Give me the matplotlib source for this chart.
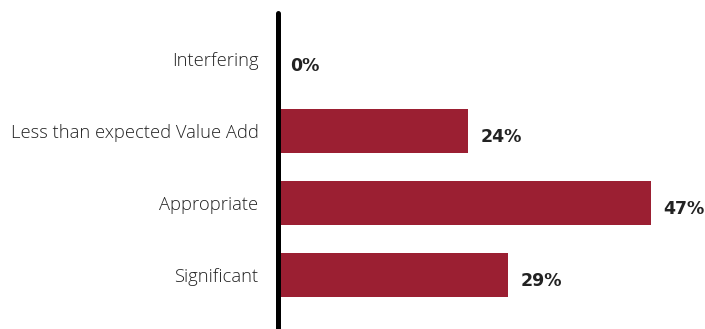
import matplotlib
matplotlib.use("Agg")
import matplotlib.pyplot as plt
import matplotlib.transforms as mtransforms

categories = ["Interfering", "Less than expected Value Add", "Appropriate", "Significant"]
values = [0, 24, 47, 29]
labels = ["0%", "24%", "47%", "29%"]

fig = plt.figure(figsize=(7.05, 3.29), dpi=100)
ax = fig.add_axes([278/705, 0, 1 - 278/705, (329 - 13)/329])

pos = list(range(len(categories)))
ax.barh(pos, values, height=0.61, color="#9B1F32", zorder=2)
ax.set_ylim(3.756, -0.648)
ax.set_xlim(0, 53.8)

ax.set_yticks(pos)
ax.set_yticklabels(categories, fontfamily="Open Sans", fontweight="light", fontsize=13.2, color="#222222")
shift = mtransforms.ScaledTranslation(0, -3/100, fig.dpi_scale_trans)
for t in ax.get_yticklabels():
    t.set_transform(t.get_transform() + shift)
ax.tick_params(axis="y", length=0, pad=14)
ax.set_xticks([])

for s in ["top", "right", "bottom"]:
    ax.spines[s].set_visible(False)
ax.spines["left"].set_linewidth(3.6)
ax.spines["left"].set_color("black")
ax.spines["left"].set_capstyle("round")
ax.spines["left"].set_zorder(3)

for p, v, lab in zip(pos, values, labels):
    ax.annotate(lab, (v, p), xytext=(9, -4.5), textcoords="offset points",
                ha="left", va="center", fontsize=12.5, fontweight="bold",
                fontfamily="DejaVu Sans", color="#222222")

fig.savefig("out.png", dpi=100)
